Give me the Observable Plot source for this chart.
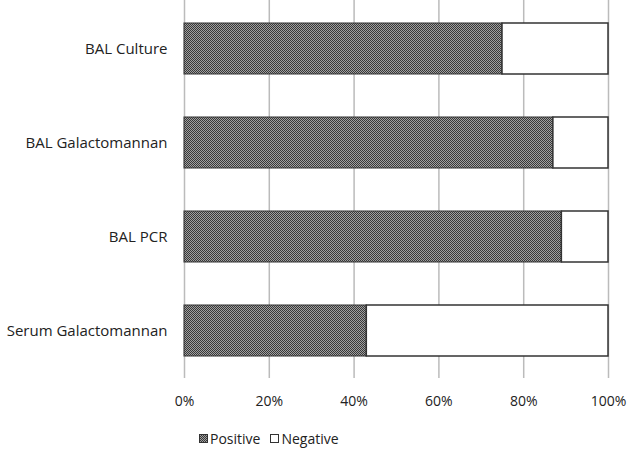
<!DOCTYPE html>
<html>
<head>
<meta charset="utf-8">
<script src="https://cdn.jsdelivr.net/npm/d3@7"></script>
<script src="https://cdn.jsdelivr.net/npm/@observablehq/plot@0.6"></script>
<style>
  html, body { margin: 0; padding: 0; background: #fff; }
  body { width: 630px; height: 453px; overflow: hidden; font-family: "Open Sans", Lato, sans-serif; }
  #legend { position: absolute; left: 199px; top: 429px; font-size: 14px; color: #222; display: flex; align-items: center; }
  #legend .item { display: flex; align-items: center; margin-right: 10px; }
  #legend .sw { width: 9px; height: 9px; border: 1px solid #333; margin-right: 2px; box-sizing: border-box; }
</style>
</head>
<body>
<div id="chart"></div>
<div id="legend"></div>
<script>
const categories = ["BAL Culture", "BAL Galactomannan", "BAL PCR", "Serum Galactomannan"];
const positive = [75, 87, 89, 43];
const negative = [25, 13, 11, 57];
const seriesNames = ["Positive", "Negative"];
const xTicks = [0, 20, 40, 60, 80, 100];

const rows = categories.map((c, i) => ({category: c, pos: positive[i], neg: negative[i]}));

const chart = Plot.plot({
  width: 630,
  height: 420,
  marginTop: 0,
  marginBottom: 42,
  marginLeft: 184,
  marginRight: 22,
  style: {fontFamily: "'Open Sans', Lato, sans-serif", fontSize: "14px", color: "#222", background: "#fff"},
  x: {domain: [0, 100], ticks: xTicks, tickFormat: d => d + "%", tickSize: 0, tickPadding: 18, label: null},
  y: {domain: categories, paddingInner: 0.46, paddingOuter: 0.23, tickSize: 0, tickPadding: 17, label: null},
  marks: [
    Plot.ruleX(xTicks, {stroke: "#bbb", strokeWidth: 1.5, strokeOpacity: 1}),
    Plot.barX(rows, {y: "category", x1: 0, x2: "pos", fill: "url(#chk)", stroke: "#333", strokeWidth: 1}),
    Plot.barX(rows, {y: "category", x1: "pos", x2: d => d.pos + d.neg, fill: "#fff", stroke: "#333", strokeWidth: 1.5})
  ]
});

chart.querySelectorAll("g[aria-label='y-axis tick label'] text").forEach(t => t.style.fontSize = "15px");

const ns = "http://www.w3.org/2000/svg";
const defs = document.createElementNS(ns, "defs");
defs.innerHTML = `<pattern id="chk" width="2" height="2" patternUnits="userSpaceOnUse">
  <rect width="2" height="2" fill="#a0a0a0"/>
  <rect width="1" height="1" fill="#383838"/>
  <rect x="1" y="1" width="1" height="1" fill="#383838"/>
</pattern>`;
chart.insertBefore(defs, chart.firstChild);
document.getElementById("chart").appendChild(chart);

const legend = document.getElementById("legend");
seriesNames.forEach((s, i) => {
  const item = document.createElement("div");
  item.className = "item";
  const sw = document.createElement("div");
  sw.className = "sw";
  sw.style.background = i === 0 ? "repeating-conic-gradient(#383838 0% 25%, #a0a0a0 0% 50%) 0 0 / 2px 2px" : "#fff";
  const t = document.createElement("span");
  t.textContent = s;
  item.appendChild(sw);
  item.appendChild(t);
  legend.appendChild(item);
});
</script>
</body>
</html>
